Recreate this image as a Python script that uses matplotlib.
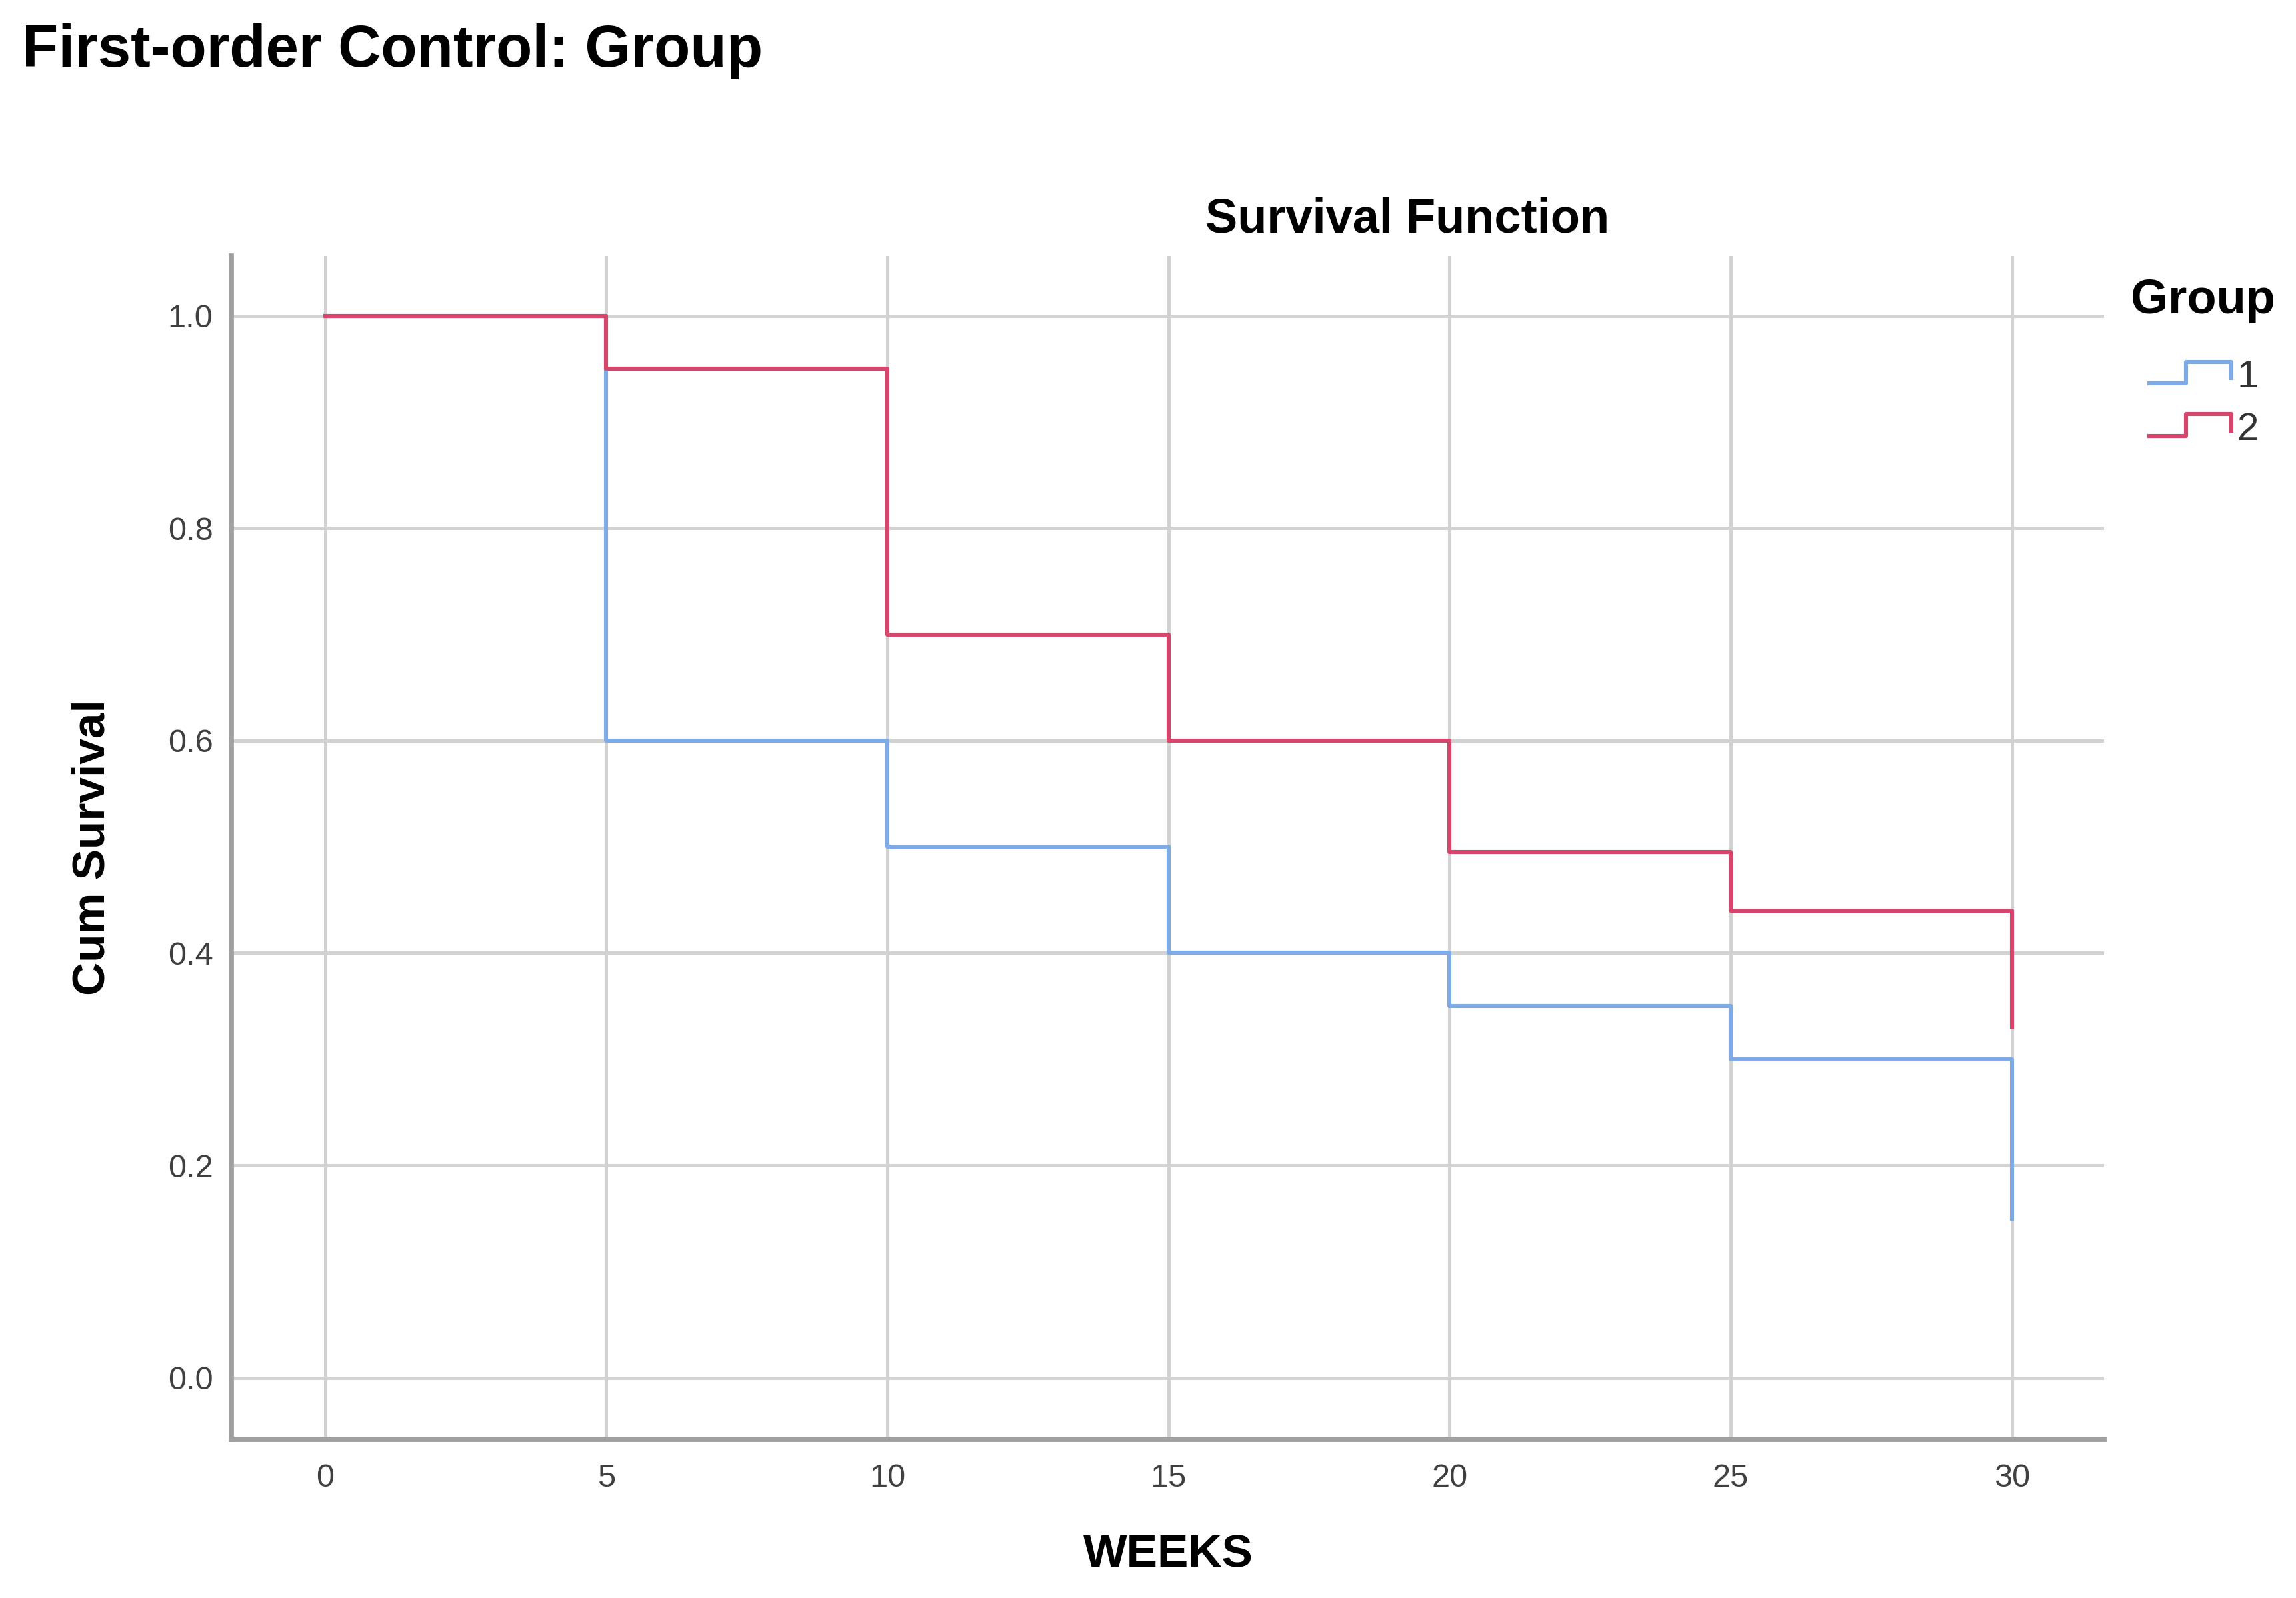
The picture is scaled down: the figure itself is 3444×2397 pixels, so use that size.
import matplotlib
matplotlib.use("Agg")
import matplotlib.pyplot as plt
from matplotlib.lines import Line2D
from matplotlib.legend_handler import HandlerBase

# ---- data ----
weeks = [0, 5, 10, 15, 20, 25, 30]
surv_group1 = [1.0, 0.60, 0.50, 0.40, 0.35, 0.30, 0.15]
surv_group2 = [1.0, 0.95, 0.70, 0.60, 0.495, 0.44, 0.33]
group_labels = ["1", "2"]
x_ticks = [0, 5, 10, 15, 20, 25, 30]
y_ticks = [0.0, 0.2, 0.4, 0.6, 0.8, 1.0]

c1 = "#7EABE6"
c2 = "#D8456C"

plt.rcParams['font.family'] = ['Liberation Sans', 'DejaVu Sans']

fig = plt.figure(figsize=(17.22, 11.985), dpi=200)
ax = fig.add_axes([0.1008, 0.0993, 0.9164 - 0.1008, 0.840 - 0.0993])

l1, = ax.step(weeks, surv_group1, where='post', color=c1, lw=2.2, zorder=3)
l2, = ax.step(weeks, surv_group2, where='post', color=c2, lw=2.2, zorder=4)

ax.set_xlim(-1.667, 31.64)
ax.set_ylim(-0.058, 1.0566)
ax.set_xticks(x_ticks)
ax.set_yticks(y_ticks)
ax.set_xticklabels([str(t) for t in x_ticks])
ax.set_yticklabels([f"{t:.1f}" for t in y_ticks])
ax.tick_params(length=0, labelsize=17.5, labelcolor="#404040")
ax.tick_params(axis='y', pad=10)
ax.tick_params(axis='x', pad=13)
ax.grid(True, color="#d2d2d2", lw=1.8, zorder=0)
ax.set_axisbelow(True)

for s in ['top', 'right']:
    ax.spines[s].set_visible(False)
for s in ['left', 'bottom']:
    ax.spines[s].set_color("#a0a0a0")
    ax.spines[s].set_linewidth(2.8)

ax.set_xlabel("WEEKS", fontsize=25, fontweight='bold', va='center')
ax.xaxis.set_label_coords(0.5004, -0.0978)
ax.set_ylabel("Cum Survival", fontsize=25, fontweight='bold', va='center')
ax.yaxis.set_label_coords(-0.0743, 0.5)

fig.text(0.6129, 0.8625, "Survival Function", fontsize=26, fontweight='bold',
         ha='center', va='center')
fig.text(0.0096, 0.968, "First-order Control: Group", fontsize=32,
         fontweight='bold', ha='left', va='center')

# legend title
fig.text(0.928, 0.812, "Group", fontsize=26, fontweight='bold',
         ha='left', va='center')


class StepHandler(HandlerBase):
    def create_artists(self, legend, orig_handle, xdescent, ydescent,
                       width, height, fontsize, trans):
        x0 = -xdescent
        y0 = -ydescent
        xs = [x0, x0 + 0.45 * width, x0 + 0.45 * width, x0 + width, x0 + width]
        ys = [y0 + 0.15 * height, y0 + 0.15 * height, y0 + 0.95 * height,
              y0 + 0.95 * height, y0 + 0.35 * height]
        ln = Line2D(xs, ys, color=orig_handle.get_color(), lw=2.2,
                    transform=trans)
        return [ln]


leg = fig.legend([l1, l2], group_labels, loc='upper left',
                 bbox_to_anchor=(0.9362, 0.775), frameon=False,
                 fontsize=21, handlelength=2.1, handletextpad=0.15,
                 labelspacing=0.42, borderpad=0, borderaxespad=0,
                 handler_map={Line2D: StepHandler()})
for t in leg.get_texts():
    t.set_color("#333333")

fig.savefig("out.png", dpi=200)
